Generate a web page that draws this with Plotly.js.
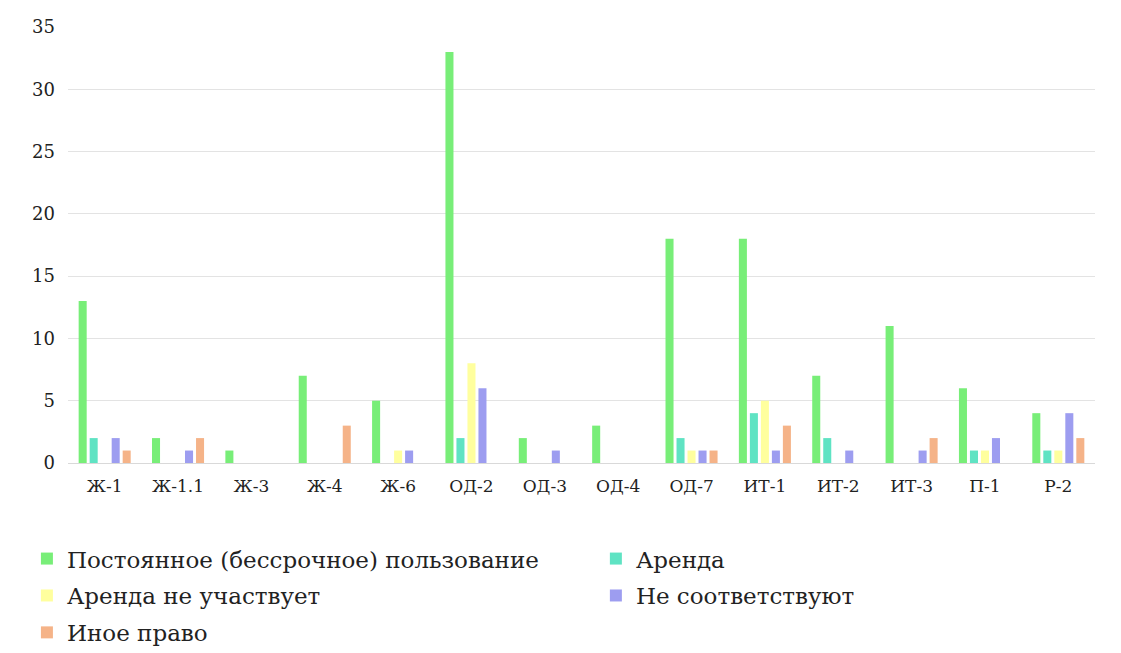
<!DOCTYPE html>
<html>
<head>
<meta charset="utf-8">
<script src="https://cdn.plot.ly/plotly-3.0.1.min.js"></script>
<style>html,body{margin:0;padding:0;background:#fff;}#chart{width:1121px;height:653px;}</style>
</head>
<body>
<div id="chart"></div>
<script>
const categories = ["Ж-1","Ж-1.1","Ж-3","Ж-4","Ж-6","ОД-2","ОД-3","ОД-4","ОД-7","ИТ-1","ИТ-2","ИТ-3","П-1","Р-2"];
const seriesNames = ["Постоянное (бессрочное) пользование","Аренда","Аренда не участвует","Не соответствуют","Иное право"];
const permanentUse = [13,2,1,7,5,33,2,3,18,18,7,11,6,4];
const lease = [2,0,0,0,0,2,0,0,2,4,2,0,1,1];
const leaseNotParticipating = [0,0,0,0,1,8,0,0,1,5,0,0,1,1];
const notMatching = [2,1,0,0,1,6,1,0,1,1,1,1,2,4];
const otherRight = [1,2,0,3,0,0,0,0,1,3,0,2,0,2];
const colors = ["#78ee78","#5fe3c3","#ffff9e","#9d9df0","#f5b388"];
const legendFor = ["legend","legend2","legend","legend2","legend"];

const values = [permanentUse, lease, leaseNotParticipating, notMatching, otherRight];
const traces = values.map((v,i)=>({
  type:'bar', x:categories, y:v, name:seriesNames[i],
  marker:{color:colors[i]}, legend:legendFor[i], legendgroup:'g'+i
}));

const serif = 'DejaVu Serif';
const legendBase = {orientation:'v', yanchor:'top', xanchor:'left', font:{size:23, family:serif, color:'#222'},
  tracegroupgap:4, itemwidth:30, bgcolor:'rgba(0,0,0,0)'};

const layout = {
  width:1121, height:653,
  margin:{l:68,r:26,t:27,b:190, autoexpand:false},
  paper_bgcolor:'#fff', plot_bgcolor:'#fff',
  barmode:'group', bargap:0.25, bargroupgap:0.27,
  font:{family:serif, color:'#222', size:18},
  xaxis:{tickfont:{size:17, family:serif}, showgrid:false, showline:true, linecolor:'#d9d9d9', ticks:'', ticklabelstandoff:8},
  yaxis:{range:[0,35], dtick:5, gridcolor:'#e3e3e3', zeroline:false, tickfont:{size:18, family:serif}, ticks:'', ticklabelstandoff:12},
  showlegend:true,
  legend:Object.assign({}, legendBase, {x:-0.04, y:-0.17}),
  legend2:Object.assign({}, legendBase, {x:0.514, y:-0.17})
};
Plotly.newPlot('chart', traces, layout, {displayModeBar:false, staticPlot:true});
</script>
</body>
</html>
